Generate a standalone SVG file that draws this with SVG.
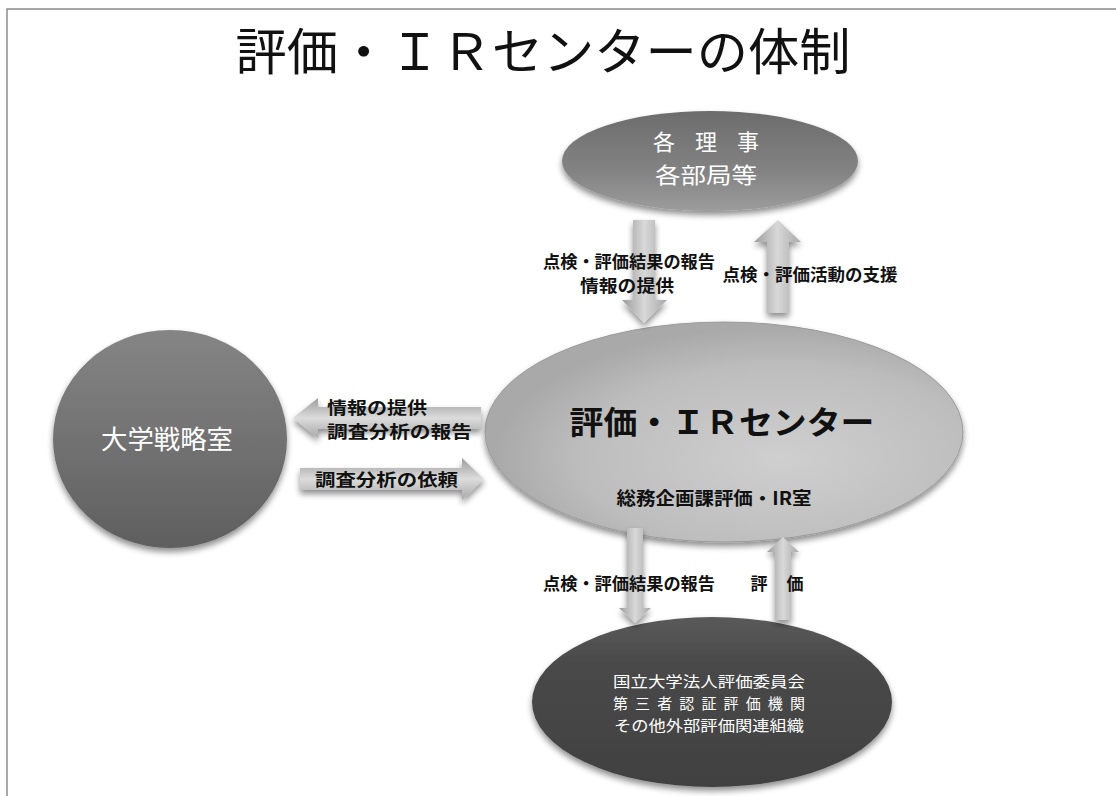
<svg xmlns="http://www.w3.org/2000/svg" width="1116" height="796" viewBox="0 0 1116 796">
<style>
text{font-family:"Noto Sans CJK JP","Liberation Sans",sans-serif;dominant-baseline:central;text-anchor:middle}
.title{font-size:50px;fill:#111}
.wt{fill:#fff}
.lbl{font-size:17px;font-weight:bold;fill:#111}
.arrow{filter:url(#sh)}
</style>
<defs>
<filter id="sh" x="-20%" y="-20%" width="140%" height="150%">
<feGaussianBlur in="SourceAlpha" stdDeviation="3"/>
<feOffset dy="4" result="b"/>
<feComponentTransfer><feFuncA type="linear" slope="0.45"/></feComponentTransfer>
<feMerge><feMergeNode/><feMergeNode in="SourceGraphic"/></feMerge>
</filter>
<linearGradient id="gTop" x1="0" y1="0" x2="0" y2="1">
<stop offset="0" stop-color="#6c6c6c"/><stop offset="0.6" stop-color="#838383"/><stop offset="1" stop-color="#9c9c9c"/>
</linearGradient>
<linearGradient id="gLeft" x1="0" y1="0" x2="0" y2="1">
<stop offset="0" stop-color="#858585"/><stop offset="1" stop-color="#5f5f5f"/>
</linearGradient>
<linearGradient id="gBot" x1="0" y1="0" x2="0" y2="1">
<stop offset="0" stop-color="#5a5a5a"/><stop offset="0.3" stop-color="#484848"/><stop offset="1" stop-color="#414141"/>
</linearGradient>
<radialGradient id="gCen" cx="0.62" cy="0.62" r="0.6">
<stop offset="0" stop-color="#cfcfcf"/><stop offset="0.7" stop-color="#bdbdbd"/><stop offset="1" stop-color="#a9a9a9"/>
</radialGradient>
<linearGradient id="gArrV" x1="0" y1="0" x2="1" y2="0">
<stop offset="0" stop-color="#9c9c9c"/><stop offset="0.5" stop-color="#d8d8d8"/><stop offset="1" stop-color="#a8a8a8"/>
</linearGradient>
<linearGradient id="gArrH" x1="0" y1="0" x2="0" y2="1">
<stop offset="0" stop-color="#9c9c9c"/><stop offset="0.5" stop-color="#dcdcdc"/><stop offset="1" stop-color="#a8a8a8"/>
</linearGradient>
</defs>
<rect width="1116" height="796" fill="#fff"/>
<path d="M7,796 V9 H1116" fill="none" stroke="#8c8c8c" stroke-width="1.5"/>
<text class="title" x="543" y="48" textLength="615" lengthAdjust="spacingAndGlyphs">評価・ＩＲセンターの体制</text>

<g id="node-riji">
<ellipse cx="710" cy="161" rx="148" ry="50" fill="url(#gTop)" filter="url(#sh)"/>
<text class="wt" x="706" y="140" font-size="22" textLength="106" lengthAdjust="spacing">各 理 事</text>
<text class="wt" x="706" y="173" font-size="22" textLength="102" lengthAdjust="spacingAndGlyphs">各部局等</text>
</g>

<g id="node-senryaku">
<ellipse cx="170" cy="439" rx="117" ry="109" fill="url(#gLeft)" filter="url(#sh)"/>
<text class="wt" x="167" y="437" font-size="26" textLength="132" lengthAdjust="spacingAndGlyphs">大学戦略室</text>
</g>

<g id="node-center">
<ellipse cx="724" cy="432" rx="239" ry="110" fill="url(#gCen)" stroke="#9a9a9a" stroke-width="1" filter="url(#sh)"/>
<text x="722" y="420" font-size="32" font-weight="bold" fill="#111" textLength="305" lengthAdjust="spacingAndGlyphs">評価・ＩＲセンター</text>
<text x="714" y="497" font-size="18" font-weight="bold" fill="#111" textLength="195" lengthAdjust="spacingAndGlyphs">総務企画課評価・IR室</text>
</g>

<g id="node-external">
<ellipse cx="712" cy="702" rx="180" ry="85" fill="url(#gBot)" filter="url(#sh)"/>
<text class="wt" x="709" y="680" font-size="15" textLength="192" lengthAdjust="spacingAndGlyphs">国立大学法人評価委員会</text>
<text class="wt" x="709" y="702" font-size="15" textLength="192" lengthAdjust="spacing">第 三 者 認 証 評 価 機 関</text>
<text class="wt" x="709" y="724" font-size="15" textLength="190" lengthAdjust="spacingAndGlyphs">その他外部評価関連組織</text>
</g>

<g id="connectors">
<path class="arrow" d="M633,220 H655 V300 H667 L644,323 L622,300 H633 Z" fill="url(#gArrV)"/>
<path class="arrow" d="M778,220 L801,242 H789 V313 H767 V242 H754 Z" fill="url(#gArrV)"/>
<path class="arrow" d="M293,418 L318,398 V407 H481 V429 H318 V438 Z" fill="url(#gArrH)"/>
<path class="arrow" d="M300,468 H462 V458 L484,479 L462,500 V490 H300 Z" fill="url(#gArrH)"/>
<path class="arrow" d="M627,528 H643 V608 H651 L635,623 L619,608 H627 Z" fill="url(#gArrV)"/>
<path class="arrow" d="M783,537 L799,552 H791 V620 H775 V552 H767 Z" fill="url(#gArrV)"/>

<text class="lbl" x="629" y="260" font-size="16" textLength="172" lengthAdjust="spacingAndGlyphs">点検・評価結果の報告</text>
<text class="lbl" x="627" y="284" font-size="16" textLength="94" lengthAdjust="spacingAndGlyphs">情報の提供</text>
<text class="lbl" x="810" y="273" textLength="175" lengthAdjust="spacingAndGlyphs">点検・評価活動の支援</text>
<text class="lbl" x="327" y="406" style="text-anchor:start" font-size="16" textLength="100" lengthAdjust="spacingAndGlyphs">情報の提供</text>
<text class="lbl" x="327" y="430" style="text-anchor:start" font-size="16" textLength="145" lengthAdjust="spacingAndGlyphs">調査分析の報告</text>
<text class="lbl" x="315" y="478" style="text-anchor:start" font-size="18" textLength="143" lengthAdjust="spacingAndGlyphs">調査分析の依頼</text>
<text class="lbl" x="629" y="582" textLength="172" lengthAdjust="spacingAndGlyphs">点検・評価結果の報告</text>
<text class="lbl" x="777" y="582" textLength="53" lengthAdjust="spacing">評　価</text>
</g>
</svg>
